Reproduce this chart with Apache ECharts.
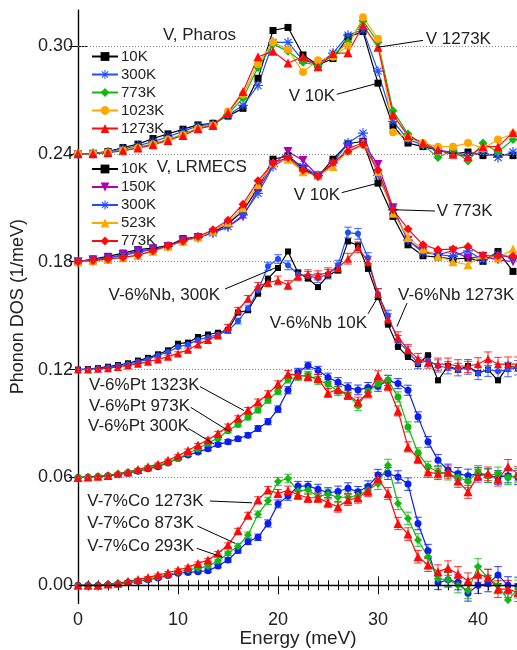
<!DOCTYPE html>
<html><head><meta charset="utf-8">
<script src="https://cdn.jsdelivr.net/npm/echarts@6/dist/echarts.min.js"></script>
<style>html,body{margin:0;padding:0;background:#fff}#c{width:517px;height:650px}</style>
</head><body><div id="c"></div>
<script>
// ---------- energies (meV) ----------
const pharosE = [0,1.5,3,4.5,6,7.5,9,10.5,12,13.5,15,16.5,18,19.5,21,22.5,24,25.5,27,28.5,30,31.5,33,34.5,36,37.5,39,40.5,42,43.5];
const lrmecsE = pharosE.slice();
const alloyE = [0,1,2,3,4,5,6,7,8,9,10,11,12,13,14,15,16,17,18,19,20,21,22,23,24,25,26,27,28,29,30,31,32,33,34,35,36,37,38,39,40,41,42,43,44];

// ---------- vertical offsets (1/meV) ----------
const offPharos = 0.24, offLrmecs = 0.18, offNb = 0.12, offPt = 0.06, offCo = 0.00;

// ---------- V, Pharos ----------
const pharos10K   = [0,.0003,.0013,.0035,.0054,.0085,.0111,.0137,.0161,.017,.021,.0253,.042,.0686,.0703,.055,.0494,.053,.065,.068,.0393,.0156,.006,.004,.002,.0,.001,-.001,.0,-.001];
const pharos300K  = [0,.0002,.001,.0028,.0045,.0068,.0095,.0125,.0155,.0165,.0215,.027,.038,.062,.062,.052,.05,.056,.066,.069,.046,.018,.008,.005,.002,.001,-.001,.001,-.002,.001];
const pharos773K  = [0,0,.0008,.002,.0035,.0055,.008,.0108,.0142,.016,.022,.031,.048,.061,.057,.051,.049,.055,.062,.074,.062,.024,.011,.005,-.002,.002,-.004,.006,.001,.008];
const pharos1023K = [0,0,.0007,.0018,.0033,.0052,.0078,.0105,.014,.0158,.0235,.033,.05,.062,.058,.0455,.052,.054,.06,.076,.064,.012,.009,.006,.004,.004,.006,.003,.008,.011];
const pharos1273K = [0,0,.0006,.0017,.0032,.005,.0074,.0102,.0139,.0158,.0228,.0346,.054,.057,.0505,.054,.0485,.0558,.0562,.0714,.0593,.0217,.010,.006,.0022,-.0002,-.0015,.004,.004,.0118];

// ---------- V, LRMECS ----------
const lrmecs10K  = [0,.0015,.003,.0048,.0067,.0076,.0089,.0128,.0137,.0163,.021,.0283,.041,.057,.0589,.052,.0474,.057,.0656,.067,.0437,.0252,.0094,.0033,.0026,.0015,.002,.0002,.0057,-.0054];
const lrmecs150K = [0,.001,.0022,.004,.006,.007,.0085,.012,.0135,.016,.0195,.025,.040,.054,.0613,.0563,.0478,.054,.063,.066,.054,.03,.012,.006,.004,.006,.002,.003,.001,.0];
const lrmecs300K = [0,.0008,.002,.0035,.0052,.0068,.0085,.0115,.0135,.016,.0195,.026,.038,.053,.058,.053,.048,.055,.066,.0715,.048,.029,.012,.005,.004,.003,.006,.001,.004,.002];
const lrmecs523K = [0,.0005,.0012,.0022,.0035,.0058,.0086,.0114,.0138,.017,.022,.030,.043,.055,.057,.05,.048,.053,.062,.066,.05,.027,.0135,.007,.003,.0,-.0017,.004,.002,.007];
const lrmecs773K = [0,.0007,.0015,.0024,.0037,.0061,.0089,.0115,.014,.0178,.023,.032,.045,.0548,.058,.051,.0474,.0552,.0613,.065,.051,.0289,.0182,.0094,.0067,.007,.0085,.0033,.0033,.003];

// ---------- V-6%Nb ----------
const nb10K   = [0,.0003,.0008,.0016,.0025,.0035,.005,.0065,.0085,.0107,.0144,.015,.0181,.0195,.0205,.022,.0317,.033,.0422,.0506,.0565,.0657,.0539,.0506,.0459,.0524,.0552,.0713,.069,.056,.0403,.025,.0126,.007,.003,.008,-.006,.002,0,.002,-.002,0,-.006,.002,.001];
const nb300K  = [0,.0002,.0006,.0013,.0021,.003,.0043,.0058,.0078,.0098,.0125,.014,.0165,.018,.0195,.0215,.027,.034,.044,.0575,.0615,.058,.053,.052,.051,.053,.058,.0762,.0755,.062,.042,.03,.016,.01,.0035,.005,.002,.001,0,.001,-.002,0,-.001,0,.001];
const nb1273K = [0,.0001,.0004,.0008,.0015,.0023,.0032,.0044,.0056,.0072,.009,.011,.014,.0165,.019,.0237,.033,.0394,.0464,.0483,.0496,.047,.052,.053,.0524,.054,.0564,.0617,.068,.06,.042,.028,.018,.011,.006,.004,.003,.003,.002,.002,.003,.006,.003,.003,.003];
const nbErr   = [.0003,.0003,.0003,.0004,.0004,.0005,.0005,.0006,.0007,.0008,.0009,.001,.0011,.0012,.0013,.0014,.0016,.0018,.002,.0022,.0024,.0025,.0025,.0025,.0025,.0026,.0028,.003,.003,.003,.003,.003,.003,.003,.003,.0032,.0034,.0034,.0035,.0036,.0036,.0038,.0038,.004,.004];

// ---------- V-6%Pt ----------
const pt300K  = [0,.0001,.0004,.0009,.0015,.0024,.0035,.0048,.006,.0081,.0105,.0125,.0142,.0159,.0183,.0198,.0215,.0235,.0272,.031,.038,.0485,.0587,.0622,.0596,.0556,.053,.05,.0487,.05,.0507,.054,.0522,.0485,.0337,.0198,.0096,.004,.002,.001,.002,.001,0,.001,0];
const pt973K  = [0,.0002,.0005,.001,.0018,.0027,.0038,.0052,.0066,.0085,.0105,.0135,.016,.019,.022,.026,.0295,.0335,.0375,.043,.048,.0545,.056,.057,.054,.052,.048,.046,.04,.048,.052,.054,.0448,.0281,.0137,.006,.003,.002,0,-.002,.003,.001,.002,0,.001];
const pt1323K = [0,.0003,.0006,.0011,.0022,.0031,.0044,.0059,.0074,.0096,.012,.015,.018,.021,.0245,.0285,.033,.0375,.042,.0465,.052,.0575,.057,.056,.055,.047,.049,.046,.042,.047,.0565,.051,.037,.017,.0105,.003,.002,.003,-.002,-.008,.001,.002,-.001,.006,.002];
const ptErr   = [.0003,.0003,.0003,.0003,.0004,.0004,.0005,.0005,.0006,.0006,.0007,.0008,.0009,.001,.0011,.0012,.0013,.0014,.0016,.0017,.0018,.002,.002,.002,.0022,.0024,.0025,.0026,.0027,.0028,.0028,.0028,.0028,.0028,.0028,.003,.0032,.0034,.0035,.0036,.0036,.0038,.0038,.004,.004];

// ---------- V-7%Co ----------
const co293K  = [0,0,0,.0005,.0009,.0015,.0022,.0031,.0041,.0054,.0067,.0072,.0076,.0081,.0107,.0141,.0193,.0243,.0267,.0344,.0453,.0497,.0552,.0552,.0535,.0515,.0522,.054,.052,.055,.0613,.0622,.0603,.0563,.0344,.0192,.0014,.0031,.0017,-.0044,0,.001,.0057,0,-.0005];
const co873K  = [0,0,0,.0006,.001,.0017,.0025,.0035,.0046,.006,.0074,.0087,.0094,.0107,.0135,.0178,.0218,.028,.0395,.047,.0578,.0594,.0524,.0532,.0493,.0507,.049,.049,.05,.053,.0565,.0668,.0455,.0372,.0252,.0159,.0036,.0031,0,-.003,.0103,.0042,0,-.0082,-.002];
const co1273K = [0,0,0,.0007,.0011,.0022,.0033,.0044,.0057,.007,.0085,.01,.0122,.0141,.0178,.0224,.0303,.039,.0475,.053,.0511,.0528,.0504,.0487,.0487,.046,.0437,.0474,.0487,.0524,.0594,.0511,.0344,.0285,.0159,.0113,.0076,.0096,.0062,.0025,.0062,.0044,-.0021,-.0021,-.004];
const coErr   = [.0003,.0003,.0003,.0003,.0004,.0004,.0005,.0005,.0006,.0006,.0007,.0008,.0008,.0009,.001,.0012,.0014,.0016,.0018,.002,.0022,.0024,.0026,.0026,.0027,.0028,.003,.003,.003,.0031,.0032,.0033,.0034,.0035,.0035,.0036,.0038,.004,.0042,.0044,.0045,.0046,.0047,.0048,.005];

// ---------- axis ticks ----------
const yTickValues = [0,0.06,0.12,0.18,0.24,0.30];
const gridValues = [0.06,0.12,0.18,0.24,0.30];

// ---------- legend names ----------
const pharosNames = ['10K','300K','773K','1023K','1273K'];
const lrmecsNames = ['10K ','150K ','300K ','523K ','773K '];

// ---------- annotations (data coordinates) ----------
const notes = [
  {t:'V, Pharos', x:8.5, y:.3061, a:'left'},
  {t:'V, LRMECS', x:7.87, y:.2325, a:'left'},
  {t:'V 1273K', x:34.77, y:.3037, a:'left'},
  {t:'V 10K', x:25.7, y:.2722, a:'right'},
  {t:'V 10K', x:26.2, y:.2171, a:'right'},
  {t:'V 773K', x:35.87, y:.2082, a:'left'},
  {t:'V-6%Nb, 300K', x:14.2, y:.1615, a:'right'},
  {t:'V-6%Nb 1273K', x:32.0, y:.1615, a:'left'},
  {t:'V-6%Nb 10K', x:28.9, y:.1459, a:'right'},
  {t:'V-6%Pt 1323K', x:1.1, y:.1114, a:'left'},
  {t:'V-6%Pt 973K', x:1.1, y:.0997, a:'left'},
  {t:'V-6%Pt 300K', x:1.0, y:.0882, a:'left'},
  {t:'V-7%Co 1273K', x:0.93, y:.0469, a:'left'},
  {t:'V-7%Co 873K', x:0.93, y:.0345, a:'left'},
  {t:'V-7%Co 293K', x:0.93, y:.0219, a:'left'}
];
const leaders = [
  [34.5,.3031,30,.2993],[25.87,.2731,29.93,.2792],[26.37,.2184,30,.2237],[35.7,.2082,31.5,.2089],
  [14.7,.1648,19.7,.1765],[32.9,.157,31.9,.144],[29,.151,30,.1604],
  [12.2,.1105,16.6,.0972],[11.27,.099,15.2,.0854],[11.03,.0873,13.6,.0786],
  [13.2,.0469,17.4,.0459],[11.93,.033,15.7,.0234],[11.87,.0206,14.47,.0156]
];
const xAxisTitle = 'Energy (meV)';

// ---------- styling ----------
const FONT = "'Liberation Sans', Arial, Helvetica, sans-serif";
const BLACK='#000000', BLUE='#1f4dff', GREEN='#12b812', ORANGE='#ffa800', RED='#ff0a0a', MAG='#b000b0', DBLUE='#0a1ef0';
const STAR = 'path://M-0.7,-6 L0.7,-6 L0.7,6 L-0.7,6 Z M-6,-0.7 L6,-0.7 L6,0.7 L-6,0.7 Z M-4.74,-3.75 L-3.75,-4.74 L4.74,3.75 L3.75,4.74 Z M3.75,-4.74 L4.74,-3.75 L-3.75,4.74 L-4.74,3.75 Z';

function lineS(name, E, vals, off, color, symbol, size, rot){
  return {name, type:'line', data:E.map((e,i)=>[e, off+vals[i]]),
    symbol, symbolSize:size, symbolRotate:rot||0, showSymbol:true, showAllSymbol:true,
    lineStyle:{color, width:1.2}, itemStyle:{color}, emphasis:{disabled:true}, clip:true, z:3, animation:false};
}
function errS(E, vals, errs, off, color){
  return {type:'custom', silent:true, clip:true, z:3, animation:false,
    data:E.map((e,i)=>[e, off+vals[i], errs[i]]), encode:{x:0,y:1},
    renderItem(params, api){
      const x=api.value(0), y=api.value(1), d=api.value(2);
      const a=api.coord([x,y+d]), b=api.coord([x,y-d]), hw=3.8;
      const st={stroke:color, lineWidth:1, opacity:0.85};
      return {type:'group', children:[
        {type:'line', shape:{x1:a[0],y1:a[1],x2:b[0],y2:b[1]}, style:st},
        {type:'line', shape:{x1:a[0]-hw,y1:a[1],x2:a[0]+hw,y2:a[1]}, style:st},
        {type:'line', shape:{x1:b[0]-hw,y1:b[1],x2:b[0]+hw,y2:b[1]}, style:st}
      ]};
    }};
}

const series = [
  {type:'line', name:'_grid', data:[[-5,-5]], showSymbol:false, lineStyle:{opacity:0}, z:1, animation:false, silent:true,
   markLine:{silent:true, symbol:['none','none'], label:{show:false}, animation:false,
     data: gridValues.map(v=>({yAxis:v, lineStyle:{color:'#8a8a8a', type:[1,2], width:1}}))
       .concat([{yAxis:0, lineStyle:{color:'#000', type:'solid', width:1.3}}])}},
  // Co
  errS(alloyE, co293K, coErr, offCo, DBLUE), lineS('Co 293K', alloyE, co293K, offCo, DBLUE, 'circle', 7),
  errS(alloyE, co873K, coErr, offCo, GREEN), lineS('Co 873K', alloyE, co873K, offCo, GREEN, 'diamond', 8),
  errS(alloyE, co1273K, coErr, offCo, RED), lineS('Co 1273K', alloyE, co1273K, offCo, RED, 'triangle', 9),
  // Pt
  errS(alloyE, pt300K, ptErr, offPt, DBLUE), lineS('Pt 300K', alloyE, pt300K, offPt, DBLUE, 'circle', 7),
  errS(alloyE, pt973K, ptErr, offPt, GREEN), lineS('Pt 973K', alloyE, pt973K, offPt, GREEN, 'circle', 7),
  errS(alloyE, pt1323K, ptErr, offPt, RED), lineS('Pt 1323K', alloyE, pt1323K, offPt, RED, 'triangle', 9),
  // Nb
  lineS('Nb 10K', alloyE, nb10K, offNb, BLACK, 'rect', 6),
  errS(alloyE, nb300K, nbErr, offNb, BLUE), lineS('Nb 300K', alloyE, nb300K, offNb, BLUE, 'circle', 6),
  errS(alloyE, nb1273K, nbErr, offNb, RED), lineS('Nb 1273K', alloyE, nb1273K, offNb, RED, 'triangle', 8),
  // LRMECS
  lineS(lrmecsNames[0], lrmecsE, lrmecs10K, offLrmecs, BLACK, 'rect', 7),
  lineS(lrmecsNames[1], lrmecsE, lrmecs150K, offLrmecs, MAG, 'triangle', 9, 180),
  lineS(lrmecsNames[2], lrmecsE, lrmecs300K, offLrmecs, BLUE, STAR, 10),
  lineS(lrmecsNames[3], lrmecsE, lrmecs523K, offLrmecs, ORANGE, 'triangle', 9),
  lineS(lrmecsNames[4], lrmecsE, lrmecs773K, offLrmecs, RED, 'diamond', 9),
  // Pharos
  lineS(pharosNames[0], pharosE, pharos10K, offPharos, BLACK, 'rect', 7),
  lineS(pharosNames[1], pharosE, pharos300K, offPharos, BLUE, STAR, 10),
  lineS(pharosNames[2], pharosE, pharos773K, offPharos, GREEN, 'diamond', 9),
  lineS(pharosNames[3], pharosE, pharos1023K, offPharos, ORANGE, 'circle', 8),
  lineS(pharosNames[4], pharosE, pharos1273K, offPharos, RED, 'triangle', 9)
];

const legendBase = {orient:'vertical', left:86, itemWidth:26, itemHeight:11, itemGap:3, selectedMode:false,
  textStyle:{fontSize:15, color:'#222', fontFamily:FONT, padding:[0,0,0,-2]}, inactiveColor:'#222'};

const xBase = {type:'value', min:0, max:44, interval:10,
  axisLine:{show:true, lineStyle:{color:'#000', width:1.2}},
  axisTick:{show:true, inside:true, length:9, lineStyle:{color:'#000', width:1}},
  minorTick:{show:true, splitNumber:10, length:5, lineStyle:{color:'#000', width:1}},
  splitLine:{show:false}, minorSplitLine:{show:false}};
const yBase = {type:'value', min:-0.01, max:0.32,
  axisLine:{show:true, lineStyle:{color:'#000', width:1.2}},
  axisTick:{show:true, inside:true, length:9, customValues:yTickValues, lineStyle:{color:'#000', width:1}},
  splitLine:{show:false}};

const option = {
  animation:false,
  backgroundColor:'#fff',
  grid:{left:78, top:10, width:440, height:593.3, containLabel:false, outerBoundsMode:'none'},
  legend:[
    Object.assign({}, legendBase, {top:44, data:pharosNames}),
    Object.assign({}, legendBase, {top:156.5, data:lrmecsNames})
  ],
  xAxis:[
    Object.assign({}, xBase, {position:'bottom',
      axisLabel:{show:true, fontSize:18, color:'#222', fontFamily:FONT, margin:8, showMaxLabel:false}}),
    Object.assign({}, xBase, {position:'top', axisLabel:{show:false}})
  ],
  yAxis:[
    Object.assign({}, yBase, {position:'left',
      axisLabel:{show:true, customValues:yTickValues, fontSize:18, color:'#222', fontFamily:FONT, margin:5,
        formatter:v=>v.toFixed(2)},
      name:'Phonon DOS (1/meV)', nameLocation:'middle', nameGap:50,
      nameTextStyle:{fontSize:18, color:'#222', fontFamily:FONT}}),
    Object.assign({}, yBase, {position:'right', axisLabel:{show:false}})
  ],
  series
};

const chart = echarts.init(document.getElementById('c'), null, {renderer:'canvas'});
chart.setOption(option);
const P = (x,y)=>chart.convertToPixel({xAxisIndex:0, yAxisIndex:0}, [x,y]);
const gfx = [];
notes.forEach(n=>{
  const p=P(n.x,n.y);
  gfx.push({type:'text', x:p[0], y:p[1], z:50, silent:true,
    style:{text:n.t, fontSize:17, fontFamily:FONT, fill:'#222', align:n.a, verticalAlign:'middle', textAlign:n.a, textVerticalAlign:'middle'}});
});
leaders.forEach(l=>{
  const a=P(l[0],l[1]), b=P(l[2],l[3]);
  gfx.push({type:'line', z:50, silent:true, shape:{x1:a[0],y1:a[1],x2:b[0],y2:b[1]}, style:{stroke:'#000', lineWidth:1}});
});
// x-axis title centred under the plot
const xl = P(0,0)[0], xr = P(44,0)[0];
gfx.push({type:'text', x:(xl+xr)/2, y:639, z:50, silent:true,
  style:{text:xAxisTitle, fontSize:19, fontFamily:FONT, fill:'#222', align:'center', verticalAlign:'middle', textAlign:'center', textVerticalAlign:'middle'}});
chart.setOption({graphic:gfx});
</script>
</body></html>
